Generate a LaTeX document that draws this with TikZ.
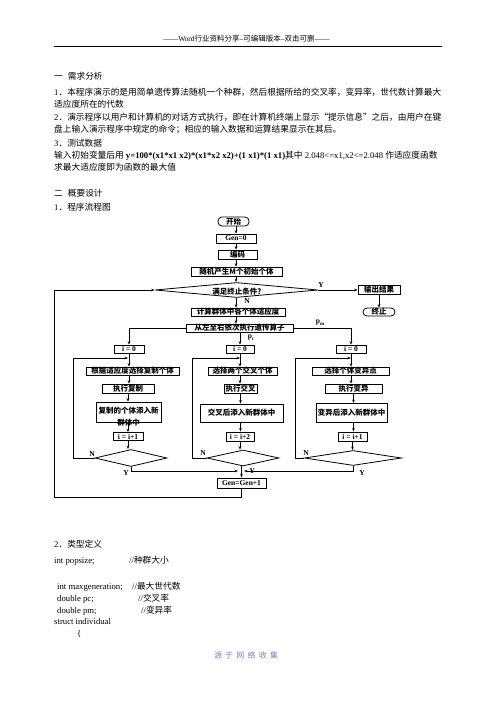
\documentclass[tikz,border=0pt]{standalone}
\usepackage{fontspec}
\setmainfont{Liberation Serif}
\newfontfamily\cjk{Noto Sans CJK SC}
\newfontfamily\cjkfoot[LetterSpace=40]{Noto Sans CJK SC}
\usetikzlibrary{shapes.geometric,arrows.meta}
\newcommand\zh[1]{{\cjk #1}}
\definecolor{footc}{RGB}{125,125,185}
\tikzset{
  txt/.style={anchor=base west, inner sep=0pt, font=\fontsize{8.7}{10}\selectfont},
  box/.style={draw, line width=0.8pt, inner sep=0pt, font=\fontsize{7.5}{8}\selectfont\cjk\bfseries},
  lbox/.style={draw, line width=0.8pt, inner sep=0pt, font=\fontsize{7.5}{8}\selectfont\bfseries},
  term/.style={box, rounded corners=4pt},
  dia/.style={draw, line width=0.8pt, diamond, inner sep=0pt},
  lab/.style={inner sep=0pt, font=\fontsize{7.5}{8}\selectfont\bfseries},
  arr/.style={-{Stealth[length=3.5pt,width=2.6pt]}, line width=0.6pt},
  ln/.style={line width=0.6pt}
}
\begin{document}
\begin{tikzpicture}[x=1pt,y=-1pt]
\useasboundingbox (0,0) rectangle (496,702);
% header
\node[inner sep=0pt, anchor=base, font=\fontsize{7.5}{8}\selectfont] (hdr) at (246.5,41.5) {——Word\zh{行业资料分享}--\zh{可编辑版本}--\zh{双击可删}——};
\draw[line width=0.8pt] (54,46) -- (442,46);
% body text
\node[txt] (t1) at (54,79.5) {\zh{一\hspace{5pt}需求分析}};
\node[txt] (t2) at (54,95.5) {1\zh{．本程序演示的是用简单遗传算法随机一个种群，然后根据所给的交叉率，变异率，世代数计算最大}};
\node[txt] (t3) at (54,107) {\zh{适应度所在的代数}};
\node[txt] (t4) at (54,120.5) {2\zh{．演示程序以用户和计算机的对话方式执行，即在计算机终端上显示“提示信息”之后，由用户在键}};
\node[txt] (t5) at (54,132.5) {\zh{盘上输入演示程序中规定的命令；相应的输入数据和运算结果显示在其后。}};
\node[txt] (t6) at (54,146.5) {3\zh{．测试数据}};
\node[txt] (t7) at (54,158.5) {\zh{输入初始变量后用} \textbf{y=100*(x1*x1 x2)*(x1*x2 x2)+(1 x1)*(1 x1)}\zh{其中} 2.048<=x1,x2<=2.048 \zh{作适应度函数}};
\node[txt] (t8) at (54,170.5) {\zh{求最大适应度即为函数的最大值}};
\node[txt] (t9) at (54,196.5) {\zh{二\hspace{5pt}概要设计}};
\node[txt] (t10) at (54,210.5) {1\zh{．程序流程图}};
% flowchart
\coordinate (colT) at (236,0);
\node[term, minimum width=31pt, minimum height=9pt] (start) at (233.5,221.5) {开始};
\node[lbox, minimum width=40pt, minimum height=9pt] (gen0) at (236,238.5) {Gen=0};
\node[box, minimum width=39pt, minimum height=9pt] (enc) at (237.5,254.5) {编码};
\node[box, minimum width=91pt, minimum height=9pt] (init) at (236.5,271.5) {随机产生M个初始个体};
\node[dia, minimum width=163pt, minimum height=15pt] (cond) at (236.5,290) {};
\node[lab, font=\fontsize{7.5}{8}\selectfont\cjk\bfseries] (condt) at (237,292) {满足终止条件?};
\node[box, minimum width=42pt, minimum height=9pt] (out) at (379,290) {输出结果};
\node[term, minimum width=32pt, minimum height=8pt] (stop) at (379,312) {终止};
\node[box, minimum width=94pt, minimum height=8pt] (fit) at (238,312) {计算群体中各个体适应度};
\node[box, minimum width=107pt, minimum height=8pt] (ops) at (239.5,328) {从左至右依次执行遗传算子};
% branches
\node[lbox, minimum width=30pt, minimum height=8pt] (i0L) at (129,349) {i = 0};
\node[lbox, minimum width=28pt, minimum height=8pt] (i0M) at (240,349) {i = 0};
\node[lbox, minimum width=30pt, minimum height=8pt] (i0R) at (351,349) {i = 0};
\node[box, minimum width=93pt, minimum height=8pt] (selL) at (132.5,371) {根据适应度选择复制个体};
\node[box, minimum width=69pt, minimum height=8pt] (selM) at (242.5,371) {选择两个交叉个体};
\node[box, minimum width=77pt, minimum height=8pt] (selR) at (350.5,371) {选择个体变异点};
\node[box, minimum width=52pt, minimum height=9pt] (exeL) at (128,388.5) {执行复制};
\node[box, minimum width=33pt, minimum height=9pt] (exeM) at (240.5,388.5) {执行交叉};
\node[box, minimum width=57pt, minimum height=9pt] (exeR) at (353.5,388.5) {执行变异};
\node[lab, font=\fontsize{7.5}{8}\selectfont\cjk\bfseries] (addLa) at (128.5,410.5) {复制的个体添入新};
\node[lab, font=\fontsize{7.5}{8}\selectfont\cjk\bfseries] (addLb) at (128.5,423) {群体中};
\node[draw, line width=0.8pt, inner sep=0pt, minimum width=65pt, minimum height=20pt] (addL) at (128.5,412) {};
\node[box, minimum width=83pt, minimum height=18pt] (addM) at (241.5,413) {交叉后添入新群体中};
\node[box, minimum width=71pt, minimum height=19pt] (addR) at (351.5,413) {变异后添入新群体中};
\node[lbox, minimum width=30pt, minimum height=8pt] (incL) at (128,436.5) {i = i+1};
\node[lbox, minimum width=28pt, minimum height=9pt] (incM) at (240,436.5) {i = i+2};
\node[lbox, minimum width=29pt, minimum height=9pt] (incR) at (352.5,436.5) {i = i+1};
\node[dia, minimum width=72pt, minimum height=17pt] (dL) at (131,458) {};
\node[dia, minimum width=72pt, minimum height=16pt] (dM) at (243,458) {};
\node[dia, minimum width=97pt, minimum height=15pt] (dR) at (353,458) {};
\node[lbox, minimum width=49pt, minimum height=10pt] (gen1) at (241.5,483) {Gen=Gen+1};
% loop coordinates
\coordinate (jL) at (128,358);
\coordinate (jM) at (240,358);
\coordinate (jR) at (351,358);
% main column
\draw[arr] (start.south -| colT) -- (gen0.north -| colT);
\draw[arr] (gen0.south -| colT) -- (enc.north -| colT);
\draw[arr] (enc.south -| colT) -- (init.north -| colT);
\draw[arr] (init.south -| colT) -- (cond.north -| colT);
\draw[arr] (cond.east) -- (out.west);
\node[lab] (ylab) at (321,285) {Y};
\draw[arr] (out.south) -- (stop.north);
\draw[arr] (cond.south -| colT) -- (fit.north -| colT);
\node[lab] (nlab) at (247,301) {N};
\draw[arr] (fit.south -| colT) -- (ops.north -| colT);
% branches from ops
\draw[arr] (ops.west) -| (i0L.north);
\draw[arr] (ops.east) -| (i0R.north);
\draw[arr] (ops.south -| i0M) -- (i0M.north);
\node[lab] (pcl) at (251,338) {p\raisebox{-0.4ex}{\fontsize{5}{5}\selectfont c}};
\node[lab] (pml) at (320,323) {p\raisebox{-0.4ex}{\fontsize{5}{5}\selectfont m}};
% left column
\draw[arr] (i0L.south) -- (i0L.south |- selL.north);
\draw[arr] (i0L.south |- selL.south) -- (i0L.south |- exeL.north);
\draw[arr] (exeL.south) -- (exeL.south |- addL.north);
\draw[arr] (exeL.south |- addL.south) -- (exeL.south |- incL.north);
\draw[arr] (incL.south) -- (incL.south |- dL.north);
% middle column
\draw[arr] (i0M.south) -- (i0M.south |- selM.north);
\draw[arr] (i0M.south |- selM.south) -- (i0M.south |- exeM.north);
\draw[arr] (exeM.south) -- (exeM.south |- addM.north);
\draw[arr] (exeM.south |- addM.south) -- (exeM.south |- incM.north);
\draw[arr] (incM.south) -- (incM.south |- dM.north);
% right column
\draw[arr] (i0R.south) -- (i0R.south |- selR.north);
\draw[arr] (i0R.south |- selR.south) -- (i0R.south |- exeR.north);
\draw[arr] (exeR.south) -- (exeR.south |- addR.north);
\draw[arr] (exeR.south |- addR.south) -- (exeR.south |- incR.north);
\draw[arr] (incR.south) -- (incR.south |- dR.north);
% N loops
\draw[arr] (dL.west) -- (73,458) -- (73,358) -- (jL);
\draw[arr] (dM.west) -- (192,458) -- (192,358) -- (jM);
\draw[arr] (dR.west) -- (295,458) -- (295,358) -- (jR);
\node[lab] (nL) at (92,454) {N};
\node[lab] (nM) at (203,453) {N};
\node[lab] (nR) at (306,453) {N};
% Y paths
\draw[arr] (dL.south) -- (dL.south |- 0,471) -- (238,471);
\draw[arr] (dR.south) -- (dR.south |- 0,471) -- (244,471);
\draw[arr] (dM.south -| gen1) -- (gen1.north);
\node[lab] (yL) at (126,473) {Y};
\node[lab] (yM) at (252,471) {Y};
\node[lab] (yR) at (362,473) {Y};
% outer loop
\draw[arr] (gen1.south) -- (gen1.south |- 0,497) -- (54,497) -- (54,290) -- (cond.west);
% code section
\node[txt] (c1) at (54,547.5) {2\zh{．类型定义}};
\node[txt] (c2) at (54,563.5) {int popsize;};
\node[txt] (c2b) at (129,563.5) {//\zh{种群大小}};
\node[txt] (c3) at (57,589.5) {int maxgeneration;};
\node[txt] (c3b) at (132,589.5) {//\zh{最大世代数}};
\node[txt] (c4) at (57,601.5) {double pc;};
\node[txt] (c4b) at (138,601.5) {//\zh{交叉率}};
\node[txt] (c5) at (57,613.5) {double pm;};
\node[txt] (c5b) at (141,613.5) {//\zh{变异率}};
\node[txt] (c6) at (54,624.5) {struct individual};
\node[txt] (c7) at (77,636.5) {\{};
% footer
\node[inner sep=0pt, anchor=base, font=\fontsize{8}{9}\selectfont\cjkfoot, text=footc] (foot) at (246,658) {源于网络收集};
\end{tikzpicture}
\end{document}
